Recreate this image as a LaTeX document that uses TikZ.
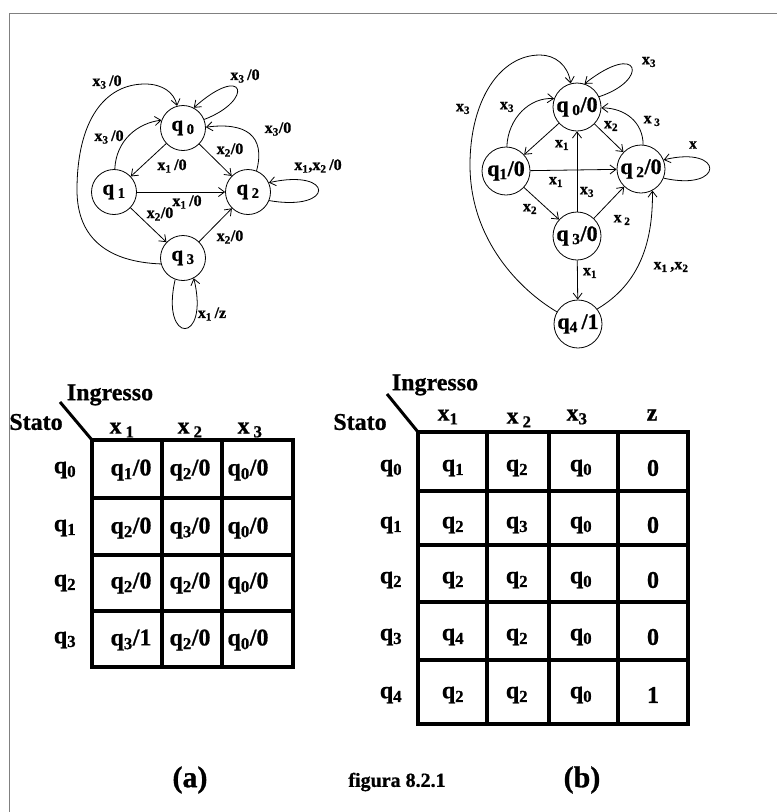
\documentclass[tikz,border=0pt]{standalone}
\usepackage{fontspec}
\setmainfont{Liberation Serif}[BoldFeatures={FakeBold=0.8}]
\usetikzlibrary{arrows.meta,positioning}
\tikzset{
    statoa/.style={
        circle,
        draw,
        line width=0.8pt,
        minimum size=45pt,
        font=\fontsize{21}{21}\selectfont\bfseries
    },
    statob/.style={
        statoa,
        minimum size=48pt,
        font=\fontsize{22}{22}\selectfont\bfseries
    },
    etichetta/.style={font=\fontsize{16}{16}\selectfont\bfseries},
    cella/.style={font=\fontsize{24}{24}\selectfont\bfseries},
    titolo/.style={font=\fontsize{30}{30}\selectfont\bfseries},
    griglia/.style={line width=3.2pt, line cap=rect},
    freccia/.style={
        line width=0.8pt,
        -{Straight Barb[length=6pt,width=9pt]}
    }
}
\newcommand{\qs}[1]{q\textsubscript{#1}}
\newcommand{\xs}[1]{x\textsubscript{#1}}

\begin{document}
\begin{tikzpicture}[
        x=1pt, y=-1pt,
        every node/.style={inner sep=0pt},
    ]
    \useasboundingbox (0,0) rectangle (777,812);
    % cornice
    \draw[gray, line width=1.8pt] (9.5,812) -- (9.5,13.5) -- (777,13.5);

    % automa (a)
    \node[statoa] (A0) at (183,128) {q\,\textsubscript{0}};
    \node[statoa] (A1) at (114,192) {q\,\textsubscript{1}};
    \node[statoa] (A2) at (248,192) {q\,\textsubscript{2}};
    \node[statoa] (A3) at (183,258) {q\,\textsubscript{3}};

    \draw[freccia] (A3.195) .. controls (110,262) and (77,240) .. (77,190)
        .. controls (77,120) and (105,84) .. (145,84)
        .. controls (162,84) and (174,92) .. (A0.105);
    \draw[freccia] (A0.22) .. controls (255,100) and (245,62) .. (A0.62);
    \draw[freccia] (A1.88) .. controls (116,140) and (138,123) .. (A0.160);
    \draw[freccia] (A2.68) .. controls (266,135) and (245,122) .. (A0.2);
    \draw[freccia] (A2.-22) .. controls (335,212) and (335,168) .. (A2.24);
    \draw[freccia] (A3.250) .. controls (160,345) and (210,345) .. (A3.298);
    \draw[freccia] (A0) -- (A1);
    \draw[freccia] (A0) -- (A2);
    \draw[freccia] (A1) -- (A2);
    \draw[freccia] (A1) -- (A3);
    \draw[freccia] (A3) -- (A2);

    \node[etichetta] (la1) at (107,82) {\xs{3}\,/0};
    \node[etichetta] (la2) at (245,76) {\xs{3}\,/0};
    \node[etichetta] (la3) at (109,137) {\xs{3}\,/0};
    \node[etichetta] (la4) at (278,129) {\xs{3}/0};
    \node[etichetta] (la5) at (230,150) {\xs{2}/0};
    \node[etichetta] (la6) at (172,166) {\xs{1}\,/0};
    \node[etichetta] (la7) at (318,166) {\xs{1},\xs{2}\,/0};
    \node[etichetta] (la8) at (187,202) {\xs{1}\,/0};
    \node[etichetta] (la9) at (160,214) {\xs{2}/0};
    \node[etichetta] (la10) at (230,237) {\xs{2}/0};
    \node[etichetta] (la11) at (212,314) {\xs{1}\,/z};

    % automa (b)
    \node[statob] (B0) at (577,107) {q\,\textsubscript{0}/0};
    \node[statob] (B1) at (506,171) {\qs{1}/0};
    \node[statob] (B2) at (641,169) {q\,\textsubscript{2}/0};
    \node[statob] (B3) at (577,236) {q\,\textsubscript{3}/0};
    \node[statob] (B4) at (578,324) {\qs{4}\,/1};

    \draw[freccia] (B4.150) .. controls (520,290) and (470,240) .. (470,165)
        .. controls (470,100) and (500,55) .. (540,55)
        .. controls (555,55) and (568,65) .. (B0.105);
    \draw[freccia] (B0.25) .. controls (650,80) and (640,40) .. (B0.72);
    \draw[freccia] (B1.88) .. controls (508,118) and (530,97) .. (B0.160);
    \draw[freccia] (B2.85) .. controls (643,122) and (625,108) .. (B0.-2);
    \draw[freccia] (B2.-22) .. controls (725,192) and (725,145) .. (B2.22);
    \draw[freccia] (B4.38) .. controls (641,283) and (653,240) .. (B2.-62);
    \draw[freccia] (B0) -- (B1);
    \draw[freccia] (B0) -- (B2);
    \draw[freccia] (B1) -- (B2);
    \draw[freccia] (B3) -- (B0);
    \draw[freccia] (B1) -- (B3);
    \draw[freccia] (B3) -- (B2);
    \draw[freccia] (B3) -- (B4);

    \node[etichetta] (lb1) at (463,109) {\xs{3}};
    \node[etichetta] (lb2) at (649,62) {\xs{3}};
    \node[etichetta] (lb3) at (507,107) {\xs{3}};
    \node[etichetta] (lb4) at (611,126) {\xs{2}};
    \node[etichetta] (lb5) at (652,121) {x\,\textsubscript{3}};
    \node[etichetta] (lb6) at (693,145) {x};
    \node[etichetta] (lb7) at (562,145) {\xs{1}};
    \node[etichetta] (lb8) at (556,182) {\xs{1}};
    \node[etichetta] (lb9) at (587,192) {\xs{3}};
    \node[etichetta] (lb10) at (530,209) {\xs{2}};
    \node[etichetta] (lb11) at (622,220) {x\,\textsubscript{2}};
    \node[etichetta] (lb12) at (590,273) {\xs{1}};
    \node[etichetta] (lb13) at (671,267) {\xs{1}\,,\xs{2}};

    % tabella (a)
    \coordinate (ta-nw) at (92,440);
    \coordinate (ta-d) at (60,402);
    \draw[line width=3pt] (ta-d) -- (ta-nw);
    \foreach \c in {92,162,222,293}
        \draw[griglia] (\c,440) -- (\c,667);
    \foreach \r in {440,498,555,611,667}
        \draw[griglia] (92,\r) -- (293,\r);
    \node[cella] (ia) at (110,395) {Ingresso};
    \node[cella] (sa) at (36,422) {Stato};
    \node[cella] (ha1) at (122,430) {x\,\textsubscript{1}};
    \node[cella] (ha2) at (190,430) {x\,\textsubscript{2}};
    \node[cella] (ha3) at (250,430) {x\,\textsubscript{3}};
    \foreach \i/\y/\a/\o/\b in {0/470/1/0/2, 1/528/2/0/3, 2/583/2/0/2, 3/640/3/1/2} {
        \node[cella] (ra-\i) at (65,\y) {\qs{\i}};
        \node[cella] (ca-\i-1) at (131,\y) {\qs{\a}/\o};
        \node[cella] (ca-\i-2) at (190,\y) {\qs{\b}/0};
        \node[cella] (ca-\i-3) at (248,\y) {\qs{0}/0};
    }

    % tabella (b)
    \coordinate (tb-nw) at (418,432);
    \coordinate (tb-d) at (387,394);
    \draw[line width=3pt] (tb-d) -- (tb-nw);
    \foreach \c in {418,487,549,618,688}
        \draw[griglia] (\c,432) -- (\c,724);
    \foreach \r in {432,491,545,602,660,724}
        \draw[griglia] (418,\r) -- (688,\r);
    \node[cella] (ib) at (435,385) {Ingresso};
    \node[cella] (sb) at (360,422) {Stato};
    \node[cella] (hb1) at (448,417) {\xs{1}};
    \node[cella] (hb2) at (519,420) {x\,\textsubscript{2}};
    \node[cella] (hb3) at (577,417) {\xs{3}};
    \node[cella] (hb4) at (652,415) {z};
    \foreach \i/\y/\a/\b/\o in {0/468/1/2/0, 1/525/2/3/0, 2/580/2/2/0, 3/637/4/2/0, 4/695/2/2/1} {
        \node[cella] (rb-\i) at (391,\y) {\qs{\i}};
        \node[cella] (cb-\i-1) at (453,\y) {\qs{\a}};
        \node[cella] (cb-\i-2) at (517,\y) {\qs{\b}};
        \node[cella] (cb-\i-3) at (581,\y) {\qs{0}};
        \node[cella] (cb-\i-4) at (653,\y) {\o};
    }

    % didascalie
    \node[titolo] (capa) at (190,780) {(a)};
    \node[font=\fontsize{20}{20}\selectfont\bfseries] (fig) at (397,782) {figura 8.2.1};
    \node[titolo] (capb) at (582,780) {(b)};
\end{tikzpicture}
\end{document}
